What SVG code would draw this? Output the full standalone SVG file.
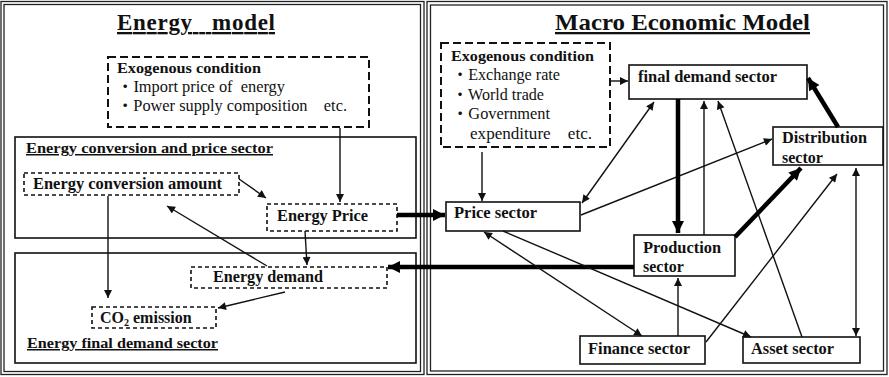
<svg xmlns="http://www.w3.org/2000/svg" width="889" height="377" viewBox="0 0 889 377">
<defs>
<style>
.frame{fill:none;stroke:#222;stroke-width:1.3}
.box{fill:#fff;stroke:#111;stroke-width:1.6}
.sec{fill:none;stroke:#111;stroke-width:1.6}
.dash{fill:#fff;stroke:#111;stroke-width:1.6;stroke-dasharray:4 3}
.dashL{fill:#fff;stroke:#111;stroke-width:2;stroke-dasharray:8 4}
.t{font-family:"Liberation Serif","Times New Roman","Noto Sans CJK JP",serif;fill:#111}
.b{font-weight:bold}
.u{text-decoration:underline}
.title{font-size:23px}
.n{font-size:16px}
.s{font-size:15px}
.r{font-size:16px}
.thin{stroke:#111;stroke-width:1.4;fill:none}
.thick{stroke:#000;stroke-width:4.5;fill:none}
</style>
<marker id="a" viewBox="0 0 10 10" refX="10" refY="5" markerWidth="10" markerHeight="8" markerUnits="userSpaceOnUse" orient="auto-start-reverse"><path d="M0,0 L10,5 L0,10 z" fill="#111"/></marker>
<marker id="A" viewBox="0 0 10 10" refX="10" refY="5" markerWidth="14" markerHeight="12" markerUnits="userSpaceOnUse" orient="auto-start-reverse"><path d="M0,0 L10,5 L0,10 z" fill="#000"/></marker>
</defs>
<rect width="889" height="377" fill="#fff"/>

<!-- panels -->
<g id="energy-model-panel">
<rect class="frame" x="1" y="1.5" width="423" height="373"/>
<rect class="frame" x="4" y="4.5" width="416.5" height="367"/>
<text class="t b u title" x="117" y="30" textLength="158" lengthAdjust="spacing" xml:space="preserve">Energy   model</text>
</g>
<g id="macro-model-panel">
<rect class="frame" x="427" y="1.5" width="460" height="373"/>
<rect class="frame" x="430.5" y="5" width="453" height="366"/>
<text class="t b u title" x="555" y="30" textLength="255" lengthAdjust="spacingAndGlyphs">Macro Economic Model</text>
</g>

<!-- sector containers -->
<g id="energy-conversion-price-sector">
<rect class="sec" x="15" y="137" width="401" height="101"/>
<text class="t b u s" x="26" y="153" textLength="247" lengthAdjust="spacingAndGlyphs">Energy conversion and price sector</text>
</g>
<g id="energy-final-demand-sector">
<rect class="sec" x="15" y="253" width="401" height="110"/>
<text class="t b u s" x="27" y="348" textLength="191" lengthAdjust="spacingAndGlyphs">Energy final demand sector</text>
</g>

<!-- left nodes -->
<g id="exo-energy">
<rect class="dashL" x="108" y="57" width="261" height="70"/>
<text class="t b s" x="117" y="72.5" textLength="144" lengthAdjust="spacingAndGlyphs">Exogenous condition</text>
<text class="t r" x="117" y="92" textLength="168" lengthAdjust="spacingAndGlyphs" xml:space="preserve">・Import price of  energy</text>
<text class="t r" x="117" y="111" textLength="230" lengthAdjust="spacingAndGlyphs" xml:space="preserve">・Power supply composition    etc.</text>
</g>
<g id="energy-conversion-amount">
<rect class="dash" x="24" y="173" width="215" height="22"/>
<text class="t b n" x="33" y="189" textLength="189" lengthAdjust="spacingAndGlyphs">Energy conversion amount</text>
</g>
<g id="energy-price">
<rect class="dash" x="267" y="204" width="130" height="27"/>
<text class="t b n" x="277" y="221" textLength="91" lengthAdjust="spacingAndGlyphs">Energy Price</text>
</g>
<g id="energy-demand">
<rect class="dash" x="191" y="267" width="196" height="21"/>
<text class="t b n" x="213" y="282" textLength="110" lengthAdjust="spacingAndGlyphs">Energy demand</text>
</g>
<g id="co2-emission">
<rect class="dash" x="92" y="307" width="124" height="21"/>
<text class="t b n" x="100" y="323">CO<tspan font-size="10" dy="3">2</tspan><tspan dy="-3"> emission</tspan></text>
</g>

<!-- right nodes -->
<g id="exo-macro">
<rect class="dashL" x="441" y="43" width="169" height="104"/>
<text class="t b s" x="451" y="61" textLength="143" lengthAdjust="spacingAndGlyphs">Exogenous condition</text>
<text class="t r" x="452" y="80" textLength="108" lengthAdjust="spacingAndGlyphs">・Exchange rate</text>
<text class="t r" x="452" y="100" textLength="92" lengthAdjust="spacingAndGlyphs">・World trade</text>
<text class="t r" x="452" y="119" textLength="98" lengthAdjust="spacingAndGlyphs">・Government</text>
<text class="t r" x="470" y="139" textLength="122" lengthAdjust="spacingAndGlyphs" xml:space="preserve">expenditure    etc.</text>
</g>
<g id="final-demand-sector">
<rect class="box" x="629" y="65" width="178" height="34"/>
<text class="t b n" x="638" y="82" textLength="139" lengthAdjust="spacingAndGlyphs">final demand sector</text>
</g>
<g id="distribution-sector">
<rect class="box" x="773" y="127" width="110" height="38"/>
<text class="t b n" x="782" y="143" textLength="85" lengthAdjust="spacingAndGlyphs">Distribution</text>
<text class="t b n" x="782" y="163">sector</text>
</g>
<g id="price-sector">
<rect class="box" x="446" y="202" width="134" height="29"/>
<text class="t b n" x="454" y="218" textLength="83" lengthAdjust="spacingAndGlyphs">Price sector</text>
</g>
<g id="production-sector">
<rect class="box" x="634" y="235" width="101" height="41"/>
<text class="t b n" x="643" y="253" textLength="78" lengthAdjust="spacingAndGlyphs">Production</text>
<text class="t b n" x="643" y="272">sector</text>
</g>
<g id="finance-sector">
<rect class="box" x="580" y="336" width="125" height="28"/>
<text class="t b n" x="588" y="354" textLength="102" lengthAdjust="spacingAndGlyphs">Finance sector</text>
</g>
<g id="asset-sector">
<rect class="box" x="743" y="337" width="117" height="26"/>
<text class="t b n" x="751" y="354" textLength="83" lengthAdjust="spacingAndGlyphs">Asset sector</text>
</g>

<!-- connectors -->
<g id="connectors">
<line class="thin" x1="340" y1="128" x2="340" y2="202" marker-end="url(#a)"/>
<line class="thin" x1="239" y1="179" x2="266" y2="198" marker-end="url(#a)"/>
<line class="thin" x1="108" y1="196" x2="108" y2="298" marker-end="url(#a)"/>
<line class="thin" x1="267" y1="266" x2="167" y2="206" marker-end="url(#a)"/>
<line class="thin" x1="305" y1="231" x2="307" y2="265" marker-end="url(#a)"/>
<line class="thin" x1="285" y1="292" x2="218" y2="308" marker-end="url(#a)"/>
<line class="thick" x1="397" y1="215" x2="445" y2="215" marker-end="url(#A)"/>
<line class="thick" x1="634" y1="267" x2="388" y2="267" marker-end="url(#A)"/>

<line class="thin" x1="610" y1="81" x2="628" y2="81" marker-end="url(#a)"/>
<line class="thin" x1="482" y1="152" x2="482" y2="201" marker-end="url(#a)"/>
<line class="thin" x1="582" y1="203" x2="654" y2="102" marker-start="url(#a)" marker-end="url(#a)"/>
<line class="thin" x1="581" y1="215" x2="772" y2="139" marker-end="url(#a)"/>
<line class="thick" x1="678" y1="99" x2="678" y2="233" marker-end="url(#A)"/>
<line class="thin" x1="704" y1="235" x2="704" y2="101" marker-end="url(#a)"/>
<line class="thin" x1="802" y1="337" x2="718" y2="101" marker-end="url(#a)"/>
<line class="thick" x1="838" y1="127" x2="808" y2="78" marker-end="url(#A)"/>
<line class="thick" x1="735" y1="237" x2="801" y2="168" marker-end="url(#A)"/>
<line class="thin" x1="706" y1="342" x2="837" y2="174" marker-end="url(#a)"/>
<line class="thin" x1="856" y1="168" x2="856" y2="336" marker-start="url(#a)" marker-end="url(#a)"/>
<line class="thin" x1="484" y1="232" x2="642" y2="336" marker-start="url(#a)" marker-end="url(#a)"/>
<line class="thin" x1="503" y1="231" x2="751" y2="337" marker-end="url(#a)"/>
<line class="thin" x1="678" y1="336" x2="678" y2="278" marker-end="url(#a)"/>
</g>
</svg>
